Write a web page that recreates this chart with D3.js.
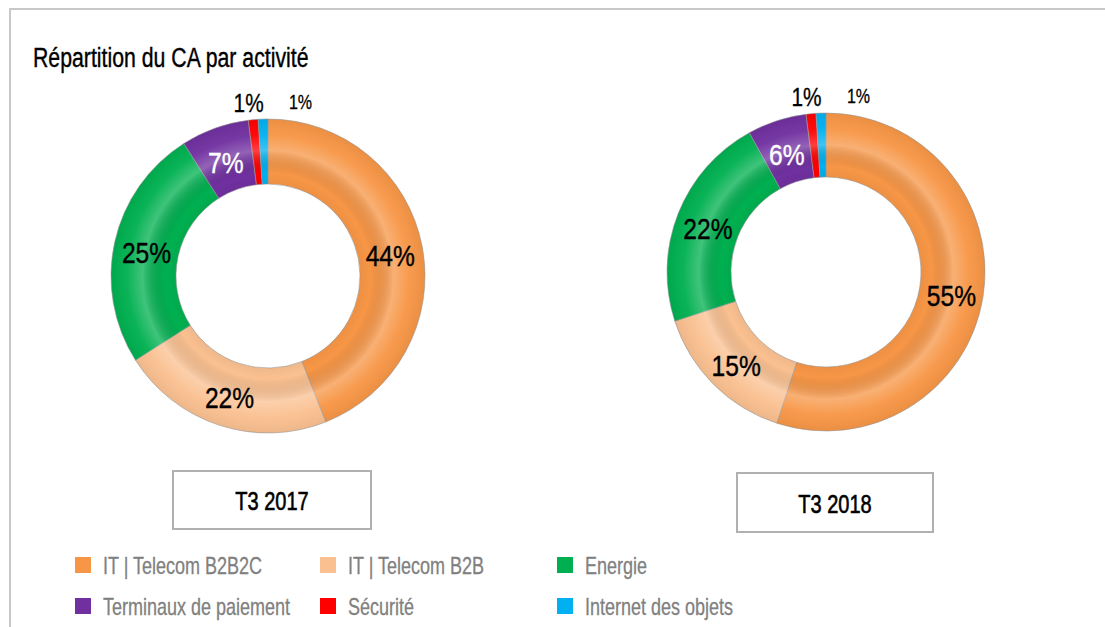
<!DOCTYPE html>
<html>
<head>
<meta charset="utf-8">
<script src="https://cdn.jsdelivr.net/npm/d3@7"></script>
<style>
    body { margin: 0; background: #fff; }
    svg { display: block; }
</style>
</head>
<body>
<div id="chart"></div>
<script>
const categories = ["IT | Telecom B2B2C", "IT | Telecom B2B", "Energie", "Terminaux de paiement", "Sécurité", "Internet des objets"];
const sliceColors = ["#F79646", "#FAC090", "#00B050", "#7030A0", "#FF0000", "#00B0F0"];
const values2017 = [44, 22, 25, 7, 1, 1];
const values2018 = [55, 15, 22, 6, 1, 1];
const periods = ["T3 2017", "T3 2018"];
const TITLE = "Répartition du CA par activité";

const WIDTH = 1105;
const HEIGHT = 627;
const FONT = "'Liberation Sans', Arial, sans-serif";

const donuts = [
    { values: values2017, period: periods[0], cx: 268, cy: 276, rOut: 157, rIn: 92, box: { x: 173, y: 471, w: 198, h: 58 } },
    { values: values2018, period: periods[1], cx: 826, cy: 272, rOut: 159, rIn: 95, box: { x: 737, y: 473, w: 196, h: 59 } }
];

// small slices get their label outside the ring
const outsideLabels = {
    "Sécurité": { dx: -3, size: 26 },
    "Internet des objets": { dx: 38, size: 20 }
};

const svg = d3.select("#chart")
    .append("svg")
    .attr("width", WIDTH)
    .attr("height", HEIGHT);

svg.append("rect")
    .attr("width", WIDTH)
    .attr("height", HEIGHT)
    .attr("fill", "#fff");

// frame (only left and top edges visible)
svg.append("path")
    .attr("d", "M10," + HEIGHT + " V9 H" + WIDTH)
    .attr("fill", "none")
    .attr("stroke", "#c8c8c8")
    .attr("stroke-width", 2);

// condensed text: squeeze horizontally, optional thin outline to thicken strokes
function condText(parent, x, y, str, size, fill, anchor, squeeze, thick) {
    const t = parent.append("text")
        .attr("transform", "translate(" + x + "," + y + ") scale(" + squeeze + ",1)")
        .attr("text-anchor", anchor)
        .attr("font-family", FONT)
        .attr("font-size", size)
        .attr("fill", fill)
        .text(str);
    if (thick) {
        t.attr("stroke", fill).attr("stroke-width", thick).attr("paint-order", "stroke");
    }
    return t;
}

condText(svg, 33, 67, TITLE, 28, "#000", "start", 0.76, 0.4);

const color = d3.scaleOrdinal(categories, sliceColors);
const pie = d3.pie().sort(null).value(d => d.value);
const defs = svg.append("defs");

donuts.forEach((dn, i) => {
    const data = pie(categories.map((c, k) => ({ cat: c, value: dn.values[k] })));
    const arc = d3.arc().innerRadius(dn.rIn).outerRadius(dn.rOut);
    const midR = (dn.rIn + dn.rOut) / 2;
    const midArc = d3.arc().innerRadius(midR).outerRadius(midR);
    const outArc = d3.arc().innerRadius(dn.rOut + 17).outerRadius(dn.rOut + 17);

    const g = svg.append("g")
        .attr("transform", "translate(" + dn.cx + "," + dn.cy + ")");

    g.selectAll("path.slice")
        .data(data)
        .join("path")
        .attr("class", "slice")
        .attr("d", arc)
        .attr("fill", d => color(d.data.cat))
        .attr("stroke", "#9a9a9a")
        .attr("stroke-width", 0.6);

    // soft bevel shading over the ring
    const gid = "shade" + i;
    const grad = defs.append("radialGradient")
        .attr("id", gid)
        .attr("gradientUnits", "userSpaceOnUse")
        .attr("cx", 0).attr("cy", 0).attr("r", dn.rOut);
    const k0 = dn.rIn / dn.rOut;
    [
        [k0, "#000", 0.04],
        [k0 + 0.07, "#000", 0],
        [0.8, "#fff", 0.25],
        [0.9, "#fff", 0.04],
        [1, "#000", 0.05]
    ].forEach(s => grad.append("stop")
        .attr("offset", s[0])
        .attr("stop-color", s[1])
        .attr("stop-opacity", s[2]));

    g.append("path")
        .attr("d", d3.arc().innerRadius(dn.rIn).outerRadius(dn.rOut).startAngle(0).endAngle(2 * Math.PI)())
        .attr("fill", "url(#" + gid + ")")
        .attr("pointer-events", "none");

    data.forEach(d => {
        const txt = d.data.value + "%";
        const out = outsideLabels[d.data.cat];
        if (out) {
            const [x, y] = outArc.centroid(d);
            condText(g, x + out.dx, y + out.size * 0.36, txt, out.size, "#000", "middle", 0.8, 0.3);
        } else {
            const [x, y] = midArc.centroid(d);
            const fill = d.data.cat === "Terminaux de paiement" ? "#fff" : "#000";
            condText(g, x, y + 30 * 0.36 + 3, txt, 30, fill, "middle", 0.82, 0.4);
        }
    });

    // period box
    svg.append("rect")
        .attr("x", dn.box.x)
        .attr("y", dn.box.y)
        .attr("width", dn.box.w)
        .attr("height", dn.box.h)
        .attr("fill", "#fff")
        .attr("stroke", "#b0b0b0")
        .attr("stroke-width", 2);

    condText(svg, dn.box.x + dn.box.w / 2, dn.box.y + dn.box.h / 2 + 10, dn.period, 25, "#000", "middle", 0.8, 0.6);
});

// legend: 3 columns x 2 rows
const legendCols = [75, 320, 557];
const legendRows = [557, 598];

const legend = svg.append("g").attr("class", "legend");
categories.forEach((c, k) => {
    const x = legendCols[k % 3];
    const y = legendRows[Math.floor(k / 3)];
    legend.append("rect")
        .attr("x", x)
        .attr("y", y)
        .attr("width", 16)
        .attr("height", 16)
        .attr("fill", color(c));
    condText(legend, x + 28, y + 17, c, 24, "#808080", "start", 0.75, 0.3);
});
</script>
</body>
</html>
